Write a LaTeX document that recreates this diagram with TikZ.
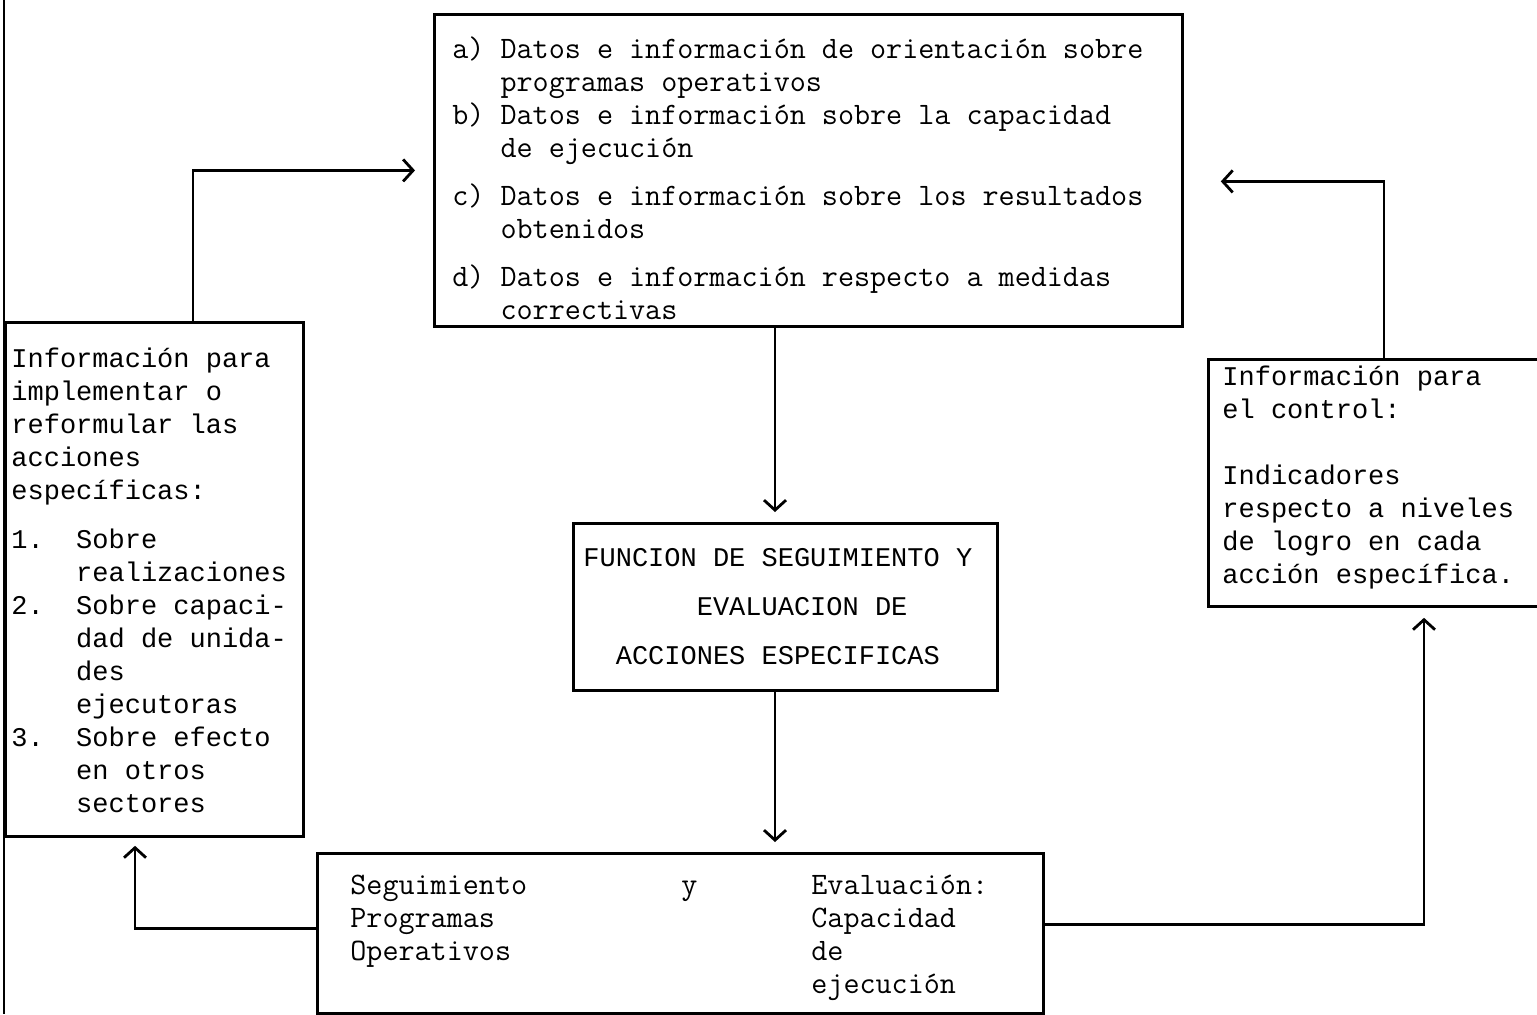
\documentclass[tikz,border=0pt]{standalone}
\usepackage{fontspec}
\newfontfamily\maquina{Liberation Mono}
\usetikzlibrary{arrows.meta}
\newcommand{\arriba}[1]{\rule{0pt}{#1}}
\newcommand{\abajo}[1]{\rule[-#1]{0pt}{#1}}

\begin{document}
\begin{tikzpicture}[x=0.5pt,y=-0.5pt,line width=1.4pt,
    >={Straight Barb[length=5pt,width=11pt]},
    box/.style={draw,anchor=north west,inner ysep=0pt,align=flush left},
    elite/.style={font=\fontsize{15.6}{16.5}\selectfont\ttfamily},
    pica/.style={font=\fontsize{13.5}{16.5}\selectfont\maquina}]
  \useasboundingbox (0,0) rectangle (1537,1014);
  \draw (4,0) -- (4,1014);
  % boxes
  \node[box,elite,inner xsep=9pt,text width=356pt] (datos) at (433,13)
    {\arriba{22pt}a) Datos e información de orientación sobre\\
     \hphantom{000}programas operativos\\
     b) Datos e información sobre la capacidad\\
     \hphantom{000}de ejecución\\[7.5pt]
     c) Datos e información sobre los resultados\\
     \hphantom{000}obtenidos\\[7.5pt]
     d) Datos e información respecto a medidas\\
     \hphantom{000}correctivas\abajo{3.5pt}};
  \node[box,pica,inner xsep=3pt,text width=143pt] (implementar) at (4,321)
    {\arriba{22.5pt}Información para\\
     implementar o\\
     reformular las\\
     acciones\\
     específicas:\\[8pt]
     1.\hphantom{00}Sobre\\
     \hphantom{0000}realizaciones\\
     2.\hphantom{00}Sobre capaci-\\
     \hphantom{0000}dad de unida-\\
     \hphantom{0000}des\\
     \hphantom{0000}ejecutoras\\
     3.\hphantom{00}Sobre efecto\\
     \hphantom{0000}en otros\\
     \hphantom{0000}sectores\abajo{12pt}};
  \node[box,pica,inner xsep=7pt,text width=151.5pt] (control) at (1207,358)
    {\arriba{13pt}Información para\\
     el control:\\[16.5pt]
     Indicadores\\
     respecto a niveles\\
     de logro en cada\\
     acción específica.\abajo{11.5pt}};
  \node[box,pica,inner xsep=5pt,text width=202pt] (funcion) at (572,522)
    {\arriba{21.5pt}FUNCION DE SEGUIMIENTO Y\\[8pt]
     \hphantom{0000000}EVALUACION DE\\[8pt]
     \hphantom{00}ACCIONES ESPECIFICAS\abajo{13pt}};
  \node[box,elite,inner xsep=16.5pt,text width=330pt] (seguimiento) at (316,852)
    {\arriba{20.5pt}\makebox[165.5pt][l]{Seguimiento}\makebox[65pt][l]{y}Evaluación:\\
     \makebox[230.5pt][l]{Programas}Capacidad\\
     \makebox[230.5pt][l]{Operativos}de\\
     \hspace*{230.5pt}ejecución\abajo{10pt}};
  % connectors
  \coordinate (ax) at (775,0);
  \coordinate (lx) at (135,0);
  \coordinate (ux) at (193,0);
  \coordinate (rx) at (1424,0);
  \coordinate (rux) at (1384,0);
  \draw[->,shorten >=5pt] (datos.south -| ax) -- (funcion.north -| ax);
  \draw[->,shorten >=5pt] (funcion.south -| ax) -- (seguimiento.north -| ax);
  \draw[->,shorten >=4pt] ([yshift=2.5pt]seguimiento.west) -| (implementar.south -| lx);
  \draw[->,shorten >=5pt] ([yshift=4.5pt]seguimiento.east) -| (control.south -| rx);
  \draw[->,shorten >=9pt] (implementar.north -| ux) |- (datos.west);
  \draw[->,shorten >=18.5pt] (control.north -| rux) |- ([yshift=-5.5pt]datos.east);
\end{tikzpicture}
\end{document}
